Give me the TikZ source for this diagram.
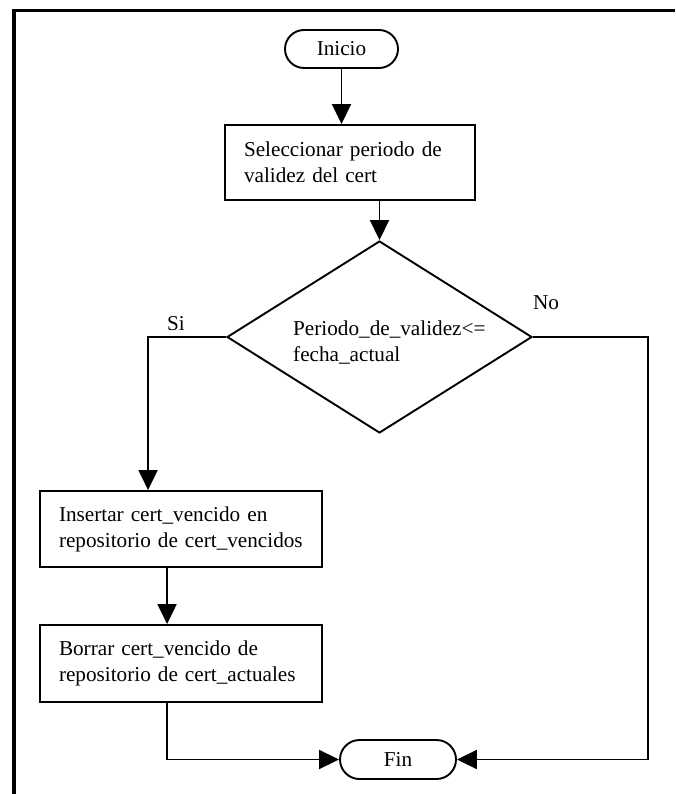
\documentclass[tikz,border=0pt]{standalone}
\usepackage{fontspec}
\setmainfont{Liberation Serif}
\usetikzlibrary{shapes.geometric,shapes.misc,arrows.meta}
\begin{document}
\begin{tikzpicture}[x=1pt,y=-1pt,
  every node/.style={font=\fontsize{21.2}{26}\selectfont},
  terminal/.style={draw,line width=1.9pt,rounded rectangle,inner sep=0pt},
  procbox/.style={draw,line width=1.9pt,rectangle,align=left,inner xsep=19pt,inner ysep=0pt},
  decision/.style={draw,line width=1.9pt,diamond,inner sep=0pt},
  plain/.style={inner sep=0pt},
  conn/.style={line width=1.9pt,-{Triangle[length=20pt,width=19pt]}},
  frame/.style={line width=3.4pt}]
\useasboundingbox (0,0) rectangle (675,794);

% outer frame (top and left edges)
\draw[frame] (14,794) -- (14,10.6) -- (675,10.6);

% nodes
\node[terminal, minimum width=113pt, minimum height=38pt] (ini) at (341.5,49) {Inicio};
\node[procbox, minimum width=250pt, minimum height=75pt, text width=212pt] (sel) at (350,162.5)
  {Seleccionar periodo de\\validez del cert};
\node[decision, minimum width=305pt, minimum height=192pt] (dec) at (379.5,337) {};
\node[plain, align=left, anchor=west] (dectext) at (293,343) {Periodo\_de\_validez<=\\fecha\_actual};
\node[procbox, minimum width=282pt, minimum height=76pt, text width=244pt] (ins) at (181,529)
  {Insertar cert\_vencido en\\repositorio de cert\_vencidos};
\node[procbox, minimum width=282pt, minimum height=77pt, text width=244pt] (del) at (181,663.5)
  {Borrar cert\_vencido de\\repositorio de cert\_actuales};
\node[terminal, minimum width=116pt, minimum height=39pt] (fin) at (398,759.5) {Fin};

% branch labels
\node[plain] (si) at (176,324) {Si};
\node[plain] (no) at (546,303) {No};

% turning point of the "No" branch
\coordinate (noTurn) at (648,337);

% connectors
\draw[conn] (ini.south) -- (ini.south |- sel.north);
\draw[conn] (dec.north |- sel.south) -- (dec.north);
\draw[conn] (dec.west) -| ([xshift=109pt]ins.north west);
\draw[conn] ([xshift=128pt]ins.south west) -- ([xshift=128pt]del.north west);
\draw[conn] ([xshift=128pt]del.south west) |- (fin.west);
\draw[conn] (dec.east) -- (noTurn) |- (fin.east);
\end{tikzpicture}
\end{document}
